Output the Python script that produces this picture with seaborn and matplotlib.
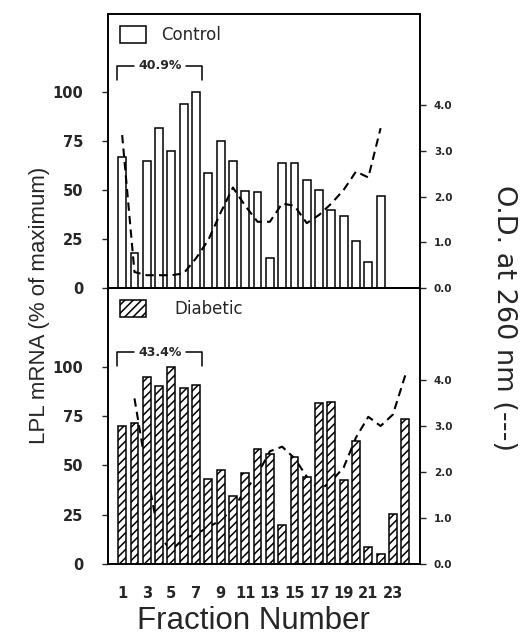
import numpy as np
import pandas as pd
import matplotlib
matplotlib.use("Agg")
import matplotlib.pyplot as plt
from matplotlib.patches import Patch
import seaborn as sns

# ---------------- data ----------------
control_fraction = list(range(1, 23))
control_mrna = [67, 18, 65, 82, 70, 94, 100, 59, 75, 65, 49.5, 49, 15.5, 64, 64,
                55, 50, 40, 37, 24, 13.5, 47]
control_od = [3.35, 0.35, 0.28, 0.28, 0.28, 0.32, 0.65, 1.05, 1.65, 2.2, 1.8, 1.45,
              1.45, 1.85, 1.8, 1.42, 1.6, 1.85, 2.15, 2.55, 2.42, 3.5]

diabetic_fraction = list(range(1, 25))
diabetic_mrna = [70, 71.5, 95, 90.5, 100, 89.5, 91, 43, 47.5, 34.5, 46, 58.5, 56, 20,
                 54.5, 44, 81.5, 82, 42.5, 62.5, 8.5, 5, 25.5, 73.5]
diabetic_od = [np.nan, 3.6, 2.0, 0.6, 0.3, 0.55, 0.65, 0.8, 0.95, 1.2, 1.6, 1.95, 2.45,
               2.55, 2.3, 1.9, 1.6, 1.8, 2.1, 2.75, 3.2, 3.0, 3.25, 4.1]

panel_labels = ["Control", "Diabetic"]
bracket_text = ["40.9%", "43.4%"]
bracket_span = [1, 7]
xtick_values = list(range(1, 24, 2))
left_ticks = [0, 25, 50, 75, 100]
right_ticks = [0.0, 1.0, 2.0, 3.0, 4.0]

# ---------------- style ----------------
sns.set_theme(style="ticks")
plt.rcParams["font.family"] = ["DejaVu Sans"]
plt.rcParams["hatch.linewidth"] = 1.1
plt.rcParams["axes.linewidth"] = 1.2

W, H = 524, 635
fig = plt.figure(figsize=(W / 100, H / 100), dpi=100)
fig.patch.set_facecolor("white")

L, R = 108, 420
panels = [(14, 288), (288, 564)]

datasets = [
    (control_fraction, control_mrna, control_od, None),
    (diabetic_fraction, diabetic_mrna, diabetic_od, "////"),
]

for i, ((top, bot), (fr, mrna, od, hatch)) in enumerate(zip(panels, datasets)):
    ax = fig.add_axes([L / W, (H - bot) / H, (R - L) / W, (bot - top) / H])
    ax2 = ax.twinx()
    df = pd.DataFrame({"fraction": fr, "mrna": mrna, "od": od})

    # O.D. dashed line
    sns.lineplot(data=df, x="fraction", y="od", ax=ax2, color="black",
                 linestyle=(0, (4, 2.5)), linewidth=1.5)
    # bars
    sns.barplot(data=df, x="fraction", y="mrna", ax=ax, native_scale=True,
                width=0.64, color="white", edgecolor="black", linewidth=1.1,
                hatch=hatch, saturation=1)
    for p in ax.patches:
        p.set_facecolor("white")
        p.set_edgecolor("black")
        if hatch:
            p.set_hatch(hatch)

    if hatch:
        ax.set_zorder(ax2.get_zorder() + 1)
        ax.patch.set_visible(False)
    else:
        ax2.set_zorder(ax.get_zorder() + 1)
        ax2.patch.set_visible(False)

    ax.set_xlim(-0.15, 25.2)
    ax2.set_xlim(-0.15, 25.2)
    ax.set_ylim(0, 140)
    ax2.set_ylim(0, 6.0)

    ax.set_yticks(left_ticks)
    ax.set_yticklabels([str(t) for t in left_ticks], fontsize=10.5, fontweight="bold")
    ax2.set_yticks(right_ticks)
    ax2.set_yticklabels([f"{t:.1f}" for t in right_ticks], fontsize=7.5,
                        fontweight="bold")
    ax.tick_params(axis="y", direction="out", length=4, width=1, pad=14)
    ax2.tick_params(axis="y", direction="out", length=4, width=1, pad=6)

    ax.set_xticks(xtick_values)
    ax.tick_params(axis="x", length=0, pad=16)
    if i == 0:
        ax.set_xticklabels([])
    else:
        ax.set_xticklabels([str(v) for v in xtick_values], fontsize=10.5,
                           fontweight="bold")
    ax.set_xlabel("")
    ax.set_ylabel("")
    ax2.set_ylabel("")
    for a in (ax, ax2):
        for s in a.spines.values():
            s.set_visible(True)
            s.set_color("black")
            s.set_linewidth(1.2)

    # bracket annotation
    ytop = 113.5 if i == 0 else 107.5
    yend = ytop - 7
    x0, x1 = bracket_span[0] - 0.4, bracket_span[1] + 0.5
    xc = (x0 + x1) / 2
    ax.plot([x0, x0, xc - 2.1], [yend, ytop, ytop], color="black", lw=1.1)
    ax.plot([xc + 2.1, x1, x1], [ytop, ytop, yend], color="black", lw=1.1)
    ax.text(xc, ytop, bracket_text[i], ha="center", va="center", fontsize=9,
            fontweight="bold")

    # legend
    handle = Patch(facecolor="white", edgecolor="black", hatch=hatch,
                   linewidth=1.1, label=panel_labels[i])
    ax.legend(handles=[handle], loc="upper left", frameon=False,
              fontsize=12, handlelength=1.6, handleheight=1.25,
              borderaxespad=0.45, borderpad=0.25,
              handletextpad=0.9 if i == 0 else 1.7)

fig.text(40 / W, 1 - 305 / H, "LPL mRNA (% of maximum)", rotation=90,
         ha="center", va="center", fontsize=16, family="Liberation Sans")
fig.text(504 / W, 1 - 318 / H, "O.D. at 260 nm (---)", rotation=270,
         ha="center", va="center", fontsize=19.5, family="DejaVu Sans")
fig.text(253 / W, 1 - 629 / H, "Fraction Number", ha="center", va="baseline",
         fontsize=22.5, family="Liberation Sans")

fig.savefig("out.png", dpi=100, facecolor="white")
